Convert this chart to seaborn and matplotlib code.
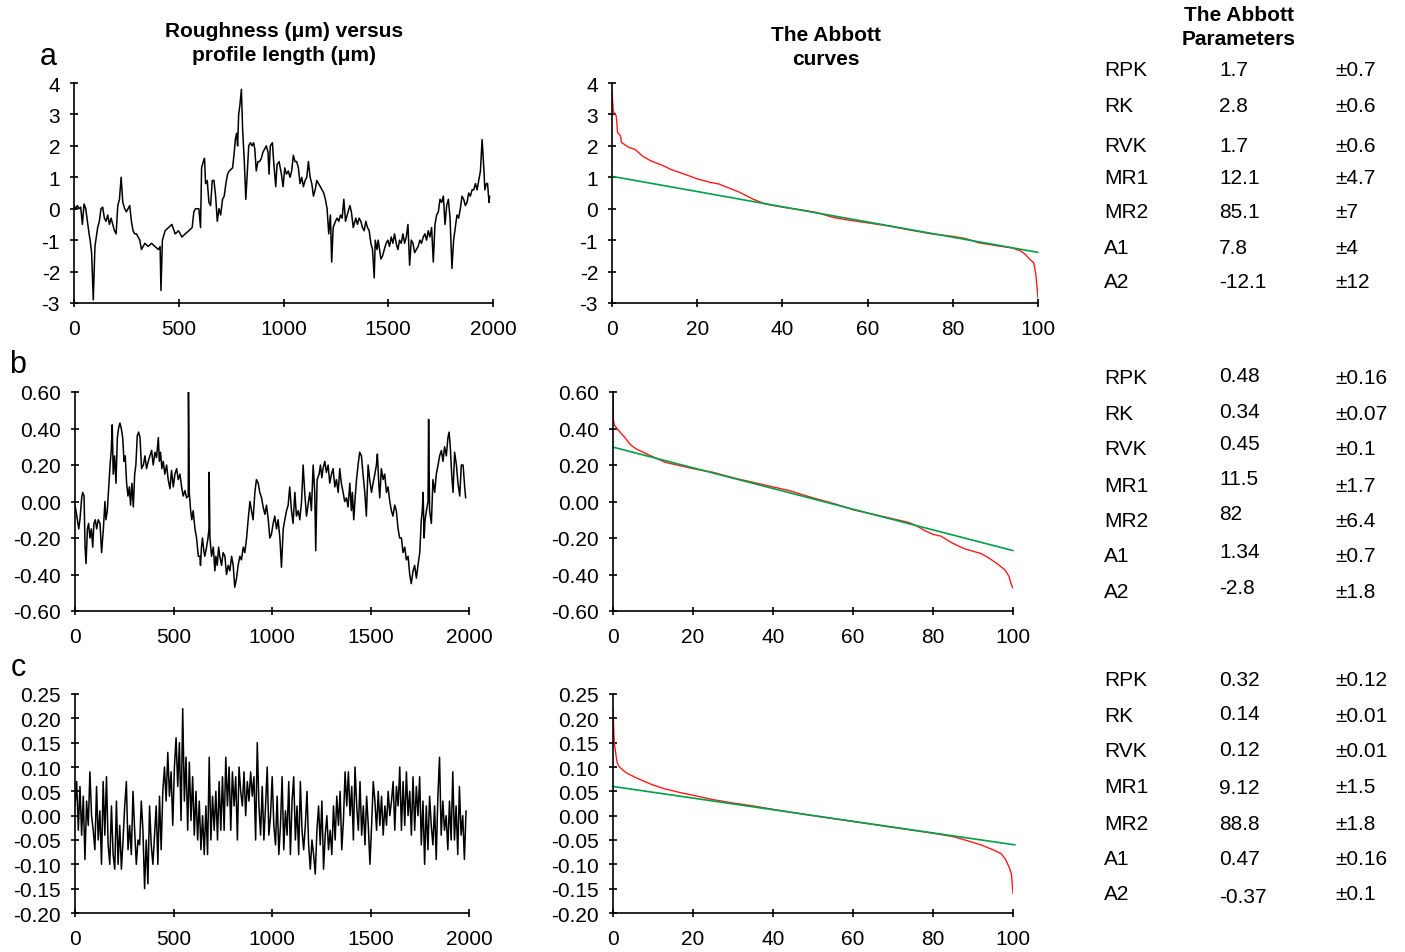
"""
Roughness profiles, Abbott curves and Abbott parameters for three surfaces (a, b, c)
"""
import numpy as np
import pandas as pd
import seaborn as sns
import matplotlib
matplotlib.use("Agg")
import matplotlib.pyplot as plt
from matplotlib.ticker import FormatStrFormatter

sns.set_style("ticks")
plt.rcParams['font.family'] = ['Liberation Sans', 'DejaVu Sans']
plt.rcParams['axes.unicode_minus'] = False
plt.rcParams['text.color'] = 'black'

# ---------------- data ----------------
# profile a : roughness (um) vs profile length (um)
profA_x = [0, 8, 16, 24, 32, 40, 48, 56, 64, 72, 77, 84, 92, 100, 113, 121, 129, 137, 145, 153,
           161, 169, 177, 185, 193, 201, 209, 217, 225, 233, 242, 250, 258, 266, 274, 282, 290, 298, 306, 314,
           322, 330, 338, 354, 370, 386, 403, 411, 415, 422, 435, 451, 467, 483, 499, 515, 531, 548, 564, 572,
           580, 596, 604, 609, 617, 623, 628, 636, 644, 652, 660, 668, 676, 684, 692, 700, 709, 717, 725, 733,
           741, 757, 765, 770, 776, 781, 786, 792, 799, 805, 813, 820, 826, 834, 842, 850, 857, 863, 870, 878,
           886, 894, 902, 910, 918, 926, 931, 937, 947, 953, 963, 969, 979, 990, 998, 1006, 1014, 1023, 1031, 1039,
           1047, 1055, 1063, 1071, 1079, 1087, 1095, 1103, 1111, 1119, 1127, 1135, 1143, 1151, 1159, 1167, 1176, 1184, 1192, 1200,
           1208, 1216, 1224, 1230, 1237, 1248, 1256, 1264, 1272, 1280, 1288, 1296, 1304, 1317, 1324, 1333, 1345, 1353, 1361, 1369,
           1377, 1385, 1393, 1401, 1409, 1417, 1425, 1433, 1438, 1446, 1452, 1465, 1473, 1481, 1490, 1498, 1506, 1514, 1522, 1530,
           1538, 1546, 1554, 1562, 1570, 1578, 1586, 1594, 1602, 1610, 1618, 1626, 1634, 1643, 1651, 1659, 1667, 1675, 1683, 1691,
           1699, 1707, 1715, 1723, 1731, 1739, 1747, 1755, 1763, 1771, 1779, 1787, 1795, 1804, 1812, 1820, 1828, 1836, 1844, 1852,
           1860, 1868, 1876, 1884, 1892, 1900, 1908, 1916, 1924, 1932, 1940, 1948, 1957, 1961, 1968, 1974, 1981, 1984]
profA_y = [0.1, 0.0, 0.1, 0.0, 0.05, -0.5, 0.15, 0.0, -0.4, -0.8, -1.0, -1.4, -2.9, -1.2, -0.6, -0.4, 0.0, 0.05, -0.3, -0.4,
           -0.2, -0.5, -0.3, -0.5, -0.7, -0.8, 0.1, 0.3, 1.0, 0.2, 0.0, -0.1, 0.0, 0.1, -0.4, -0.7, -0.8, -0.8, -0.9, -1.0,
           -1.3, -1.2, -1.1, -1.2, -1.1, -1.2, -1.3, -1.2, -2.6, -1.0, -0.7, -0.6, -0.5, -0.8, -0.7, -0.9, -0.8, -0.7, -0.6, -0.1,
           0.0, 0.0, -0.6, 1.3, 1.5, 1.6, 0.8, 0.9, 0.2, 0.1, 0.9, 0.9, 0.4, -0.4, 0.0, -0.2, 0.3, 0.4, 0.8, 1.1,
           1.2, 1.3, 1.8, 2.2, 2.4, 2.0, 3.0, 3.3, 3.8, 2.5, 1.5, 0.3, 1.0, 2.0, 2.1, 2.0, 2.1, 1.9, 1.2, 1.5,
           1.5, 1.6, 1.8, 1.9, 2.0, 1.8, 1.1, 2.0, 2.1, 1.5, 0.7, 1.4, 1.5, 1.1, 0.7, 1.3, 1.1, 1.2, 1.0, 1.2,
           1.7, 1.5, 1.5, 1.3, 0.8, 1.0, 0.7, 0.9, 1.0, 1.5, 1.0, 0.8, 0.4, 0.6, 0.9, 0.8, 0.7, 0.6, 0.5, 0.3,
           0.0, -0.8, -0.2, -1.7, -0.6, -0.4, -0.3, -0.4, -0.2, -0.3, 0.3, -0.4, -0.2, 0.1, -0.1, -0.6, -0.3, -0.5, -0.3, -0.4,
           -0.6, -0.7, -0.4, -0.6, -0.7, -1.1, -1.3, -2.2, -1.0, -1.3, -1.0, -1.6, -1.5, -1.3, -1.1, -1.0, -1.2, -0.9, -1.1, -0.8,
           -1.1, -1.3, -1.0, -1.1, -0.8, -1.1, -0.9, -0.5, -1.8, -1.0, -1.1, -1.4, -1.3, -1.2, -1.0, -1.1, -0.9, -0.8, -1.0, -0.7,
           -0.9, -0.6, -1.7, -0.5, -0.2, -0.1, 0.3, 0.2, 0.4, -0.5, 0.1, 0.3, -0.3, -1.9, -1.0, -0.6, -0.2, -0.3, 0.0, 0.4,
           0.3, 0.1, 0.2, 0.5, 0.4, 0.6, 0.6, 0.8, 0.6, 0.9, 1.2, 2.2, 1.2, 0.6, 0.8, 0.8, 0.2, 0.4]

# profile b
profB_x = [0, 5, 12, 19, 25, 34, 39, 46, 51, 56, 63, 69, 76, 83, 90, 96, 103, 110, 118, 127,
           135, 144, 152, 157, 164, 171, 178, 184, 189, 194, 201, 208, 215, 221, 228, 235, 242, 249, 255, 262,
           269, 276, 282, 289, 296, 303, 309, 316, 323, 330, 338, 347, 355, 363, 372, 380, 389, 397, 406, 414,
           423, 428, 434, 441, 448, 456, 465, 473, 482, 490, 499, 507, 516, 524, 533, 541, 549, 558, 566, 575,
           576, 580, 587, 593, 600, 609, 617, 626, 634, 637, 642, 647, 654, 659, 668, 675, 680, 681, 685, 693,
           702, 710, 715, 722, 729, 735, 744, 752, 761, 769, 778, 786, 795, 803, 811, 820, 828, 837, 845, 854,
           862, 871, 879, 888, 896, 904, 913, 921, 930, 938, 947, 955, 964, 972, 981, 989, 997, 1006, 1014, 1023,
           1031, 1040, 1048, 1057, 1065, 1074, 1082, 1090, 1099, 1107, 1116, 1124, 1133, 1141, 1150, 1158, 1166, 1175, 1183, 1192,
           1200, 1209, 1217, 1222, 1229, 1239, 1246, 1253, 1259, 1268, 1276, 1285, 1293, 1302, 1310, 1319, 1327, 1336, 1344, 1352,
           1361, 1369, 1378, 1386, 1395, 1403, 1408, 1415, 1422, 1429, 1437, 1445, 1454, 1462, 1471, 1479, 1488, 1496, 1505, 1513,
           1522, 1530, 1535, 1542, 1547, 1555, 1564, 1572, 1581, 1589, 1598, 1606, 1614, 1623, 1631, 1640, 1648, 1657, 1665, 1674,
           1682, 1691, 1699, 1707, 1716, 1724, 1733, 1741, 1750, 1758, 1763, 1767, 1772, 1777, 1784, 1792, 1795, 1800, 1809, 1817,
           1826, 1834, 1843, 1851, 1860, 1868, 1876, 1885, 1893, 1899, 1905, 1912, 1919, 1927, 1936, 1944, 1953, 1961, 1970, 1978,
           1983]
profB_y = [-0.02, -0.05, -0.1, -0.15, -0.1, 0.02, 0.05, 0.03, -0.25, -0.34, -0.15, -0.12, -0.2, -0.15, -0.25, -0.12, -0.1, -0.15, -0.1, -0.12,
           -0.28, -0.15, 0.0, -0.1, -0.05, 0.08, 0.2, 0.28, 0.42, 0.15, 0.25, 0.1, 0.35, 0.4, 0.43, 0.4, 0.35, 0.22, 0.25, 0.1,
           0.03, 0.08, -0.02, 0.1, -0.03, 0.15, 0.2, 0.36, 0.38, 0.35, 0.18, 0.2, 0.25, 0.18, 0.22, 0.25, 0.28, 0.2, 0.27, 0.24,
           0.35, 0.22, 0.27, 0.18, 0.22, 0.15, 0.2, 0.12, 0.07, 0.17, 0.08, 0.15, 0.18, 0.12, 0.15, 0.08, 0.03, 0.06, 0.02, 0.03,
           0.6, 0.05, -0.05, -0.1, -0.05, -0.15, -0.2, -0.3, -0.3, -0.35, -0.25, -0.2, -0.27, -0.3, -0.25, -0.2, -0.15, 0.16, -0.2, -0.3,
           -0.25, -0.38, -0.3, -0.35, -0.25, -0.3, -0.35, -0.28, -0.3, -0.4, -0.35, -0.38, -0.3, -0.35, -0.47, -0.42, -0.35, -0.3, -0.32, -0.25,
           -0.28, -0.2, -0.1, 0.0, -0.05, -0.1, 0.05, 0.12, 0.1, 0.05, 0.02, -0.03, -0.07, -0.02, -0.1, -0.2, -0.18, -0.12, -0.08, -0.15,
           -0.1, -0.2, -0.36, -0.15, -0.1, -0.05, -0.02, 0.08, -0.05, -0.12, 0.05, -0.08, -0.05, -0.1, 0.0, 0.2, 0.05, -0.08, -0.02, 0.05,
           -0.05, 0.2, 0.05, -0.27, 0.12, 0.15, 0.2, 0.13, 0.18, 0.22, 0.16, 0.2, 0.1, 0.15, 0.18, 0.08, 0.12, 0.05, 0.18, 0.1,
           0.05, 0.0, 0.02, -0.03, 0.1, -0.05, 0.05, -0.1, 0.02, 0.12, 0.2, 0.27, 0.25, 0.15, 0.05, -0.08, 0.2, 0.12, 0.05, 0.1,
           0.15, 0.2, 0.26, 0.1, 0.02, 0.18, 0.12, 0.15, 0.05, 0.08, 0.0, -0.05, -0.08, -0.02, -0.05, -0.15, -0.2, -0.2, -0.28, -0.25,
           -0.32, -0.3, -0.4, -0.45, -0.38, -0.35, -0.42, -0.35, -0.28, -0.1, -0.05, 0.05, -0.2, -0.1, -0.05, 0.0, 0.45, -0.05, -0.12, 0.12,
           0.05, 0.15, 0.2, 0.25, 0.28, 0.22, 0.3, 0.25, 0.35, 0.38, 0.3, 0.15, 0.05, 0.27, 0.2, 0.1, 0.03, 0.2, 0.2, 0.08,
           0.02]

# profile c (evenly sampled along 0..1985 um)
profC_y = [0.02, 0.07, -0.03, 0.06, -0.04, 0.04, -0.09, 0.03, -0.02, 0.09, 0.0, -0.03,
           -0.07, 0.06, -0.05, 0.01, -0.10, 0.07, -0.04, 0.08, -0.06, -0.10, 0.02, -0.08,
           -0.11, 0.03, -0.10, -0.02, -0.11, -0.05, 0.02, 0.07, -0.07, -0.02, -0.08, 0.05,
           -0.03, -0.10, -0.05, -0.06, 0.03, -0.03, -0.15, -0.05, -0.14, 0.02, -0.06, -0.10,
           -0.04, 0.02, -0.10, 0.04, -0.07, 0.05, 0.10, 0.03, 0.13, 0.04, 0.09, -0.02,
           0.10, 0.16, 0.06, 0.15, -0.01, 0.22, 0.03, 0.12, -0.03, 0.11, -0.01, 0.08,
           -0.04, 0.05, -0.05, 0.03, -0.07, 0.00, -0.08, 0.02, -0.08, 0.12, -0.05, 0.04,
           -0.03, 0.05, -0.05, 0.07, -0.03, 0.08, -0.03, 0.12, 0.02, 0.10, -0.03, 0.09,
           0.02, 0.08, -0.05, 0.10, 0.05, 0.02, 0.09, 0.00, 0.07, 0.03, 0.09, 0.04,
           0.08, -0.05, 0.15, 0.02, -0.04, 0.06, -0.05, 0.02, 0.10, -0.04, 0.00, 0.08,
           -0.02, -0.06, 0.04, -0.08, -0.02, 0.08, -0.07, 0.01, -0.04, 0.07, -0.08, 0.03,
           0.08, -0.05, 0.02, -0.08, 0.07, -0.03, -0.07, -0.02, 0.05, -0.06, -0.11, -0.05,
           -0.08, -0.12, -0.03, 0.02, -0.06, 0.03, -0.11, -0.04, 0.00, -0.07, -0.03, -0.08,
           0.02, -0.05, 0.04, -0.02, 0.05, -0.07, -0.01, 0.09, 0.02, 0.09, 0.00, 0.06,
           -0.05, 0.10, 0.02, -0.03, 0.07, -0.04, 0.02, -0.06, 0.04, -0.02, -0.10, -0.02,
           0.07, 0.03, -0.03, 0.05, -0.02, 0.04, -0.04, 0.02, -0.02, 0.05, 0.00, 0.03,
           0.07, -0.03, 0.06, 0.02, 0.10, -0.03, 0.07, -0.02, 0.09, 0.00, 0.05, -0.04,
           0.08, -0.03, 0.06, 0.00, 0.08, -0.06, 0.03, -0.10, 0.02, -0.07, 0.04, -0.02,
           -0.06, 0.02, -0.09, 0.04, 0.12, -0.04, 0.03, -0.03, 0.00, -0.07, 0.03, -0.05,
           0.09, -0.05, 0.02, -0.08, 0.06, -0.04, 0.00, -0.09, 0.01]
profC_len = 1985
profC_x = np.linspace(0, profC_len, len(profC_y))

# Abbott curves: bearing ratio (%) vs height, plus the fitted core line
abbA_pct = [0, 0.3, 1, 1.3, 2, 2.2, 4, 5.5, 7, 9, 12, 14, 17, 20, 23, 25, 28, 30, 33, 36,
            40, 45, 48, 52, 55, 60, 65, 70, 75, 80, 83, 86, 90, 94, 96, 97, 98, 99, 99.5, 100]
abbA_h = [3.75, 3.1, 2.95, 2.43, 2.32, 2.11, 1.95, 1.88, 1.69, 1.53, 1.37, 1.24, 1.1, 0.95, 0.84, 0.79, 0.63, 0.52, 0.31, 0.15,
          0.05, -0.05, -0.12, -0.28, -0.35, -0.45, -0.55, -0.68, -0.8, -0.88, -0.95, -1.08, -1.17, -1.25, -1.35, -1.45, -1.6, -1.72, -2.1, -2.85]
lineA_pct = [0, 100]
lineA_h = [1.03, -1.39]

abbB_pct = [0, 0.1, 0.3, 1, 2, 3, 4, 5, 6, 8, 10, 13, 17, 20, 25, 30, 35, 40, 44, 50,
            55, 60, 65, 70, 74, 76, 78, 80, 82, 85, 88, 92, 94, 96, 98, 99, 99.5, 100]
abbB_h = [0.6, 0.45, 0.42, 0.4, 0.374, 0.35, 0.32, 0.3, 0.286, 0.265, 0.245, 0.215, 0.195, 0.18, 0.16, 0.13, 0.105, 0.08, 0.06, 0.02,
          -0.01, -0.045, -0.07, -0.095, -0.115, -0.135, -0.16, -0.18, -0.19, -0.23, -0.26, -0.285, -0.31, -0.34, -0.375, -0.41, -0.45, -0.475]
lineB_pct = [0, 100]
lineB_h = [0.298, -0.269]

abbC_pct = [0, 0.3, 0.6, 1, 1.5, 3, 4, 6, 8, 10, 13, 17, 20, 25, 30, 35, 40, 50, 60, 70,
            80, 85, 88, 92, 95, 97, 98, 99, 99.6, 100]
abbC_h = [0.219, 0.15, 0.133, 0.11, 0.101, 0.09, 0.085, 0.077, 0.07, 0.063, 0.055, 0.047, 0.042, 0.033, 0.026, 0.02, 0.013, 0.0, -0.012, -0.024,
          -0.036, -0.043, -0.05, -0.06, -0.07, -0.078, -0.088, -0.105, -0.12, -0.16]
lineC_pct = [0, 100.5]
lineC_h = [0.06, -0.06]

# Abbott parameters table
paramNames = ['RPK', 'RK', 'RVK', 'MR1', 'MR2', 'A1', 'A2']
paramA = ['1.7', '2.8', '1.7', '12.1', '85.1', '7.8', '-12.1']
errA = ['±0.7', '±0.6', '±0.6', '±4.7', '±7', '±4', '±12']
paramB = ['0.48', '0.34', '0.45', '11.5', '82', '1.34', '-2.8']
errB = ['±0.16', '±0.07', '±0.1', '±1.7', '±6.4', '±0.7', '±1.8']
paramC = ['0.32', '0.14', '0.12', '9.12', '88.8', '0.47', '-0.37']
errC = ['±0.12', '±0.01', '±0.01', '±1.5', '±1.8', '±0.16', '±0.1']

# ---------------- layout (pixels) ----------------
W, H = 1405, 953
fig = plt.figure(figsize=(W / 100, H / 100), dpi=100)


def addAxes(left, right, top, bottom):
    return fig.add_axes([left / W, 1 - bottom / H, (right - left) / W, (bottom - top) / H])


def styleAxis(ax, xlim, xticks, ylim, yticks, fmt):
    ax.set_xlim(xlim)
    ax.set_ylim(ylim)
    ax.set_xticks(xticks)
    ax.set_yticks(yticks)
    ax.yaxis.set_major_formatter(FormatStrFormatter(fmt))
    sns.despine(ax=ax)
    for s in ['left', 'bottom']:
        ax.spines[s].set_linewidth(1.2)
        ax.spines[s].set_color('black')
    ax.tick_params(direction='inout', length=6, width=1.2, labelsize=15, colors='black', pad=7)
    ax.tick_params(axis='x', pad=8.5)
    ax.set_xlabel('')
    ax.set_ylabel('')
    ax.set_facecolor('white')


def drawProfile(ax, x, y):
    df = pd.DataFrame({'x': x, 'y': y})
    sns.lineplot(data=df, x='x', y='y', ax=ax, color='black', linewidth=1.1, estimator=None, sort=False)


def drawAbbott(ax, pct, h, lpct, lh):
    curve = pd.DataFrame({'pct': pct, 'h': h})
    core = pd.DataFrame({'pct': lpct, 'h': lh})
    sns.lineplot(data=curve, x='pct', y='h', ax=ax, color='#ff1a1a', linewidth=1.0, estimator=None, sort=False)
    sns.lineplot(data=core, x='pct', y='h', ax=ax, color='#00a04a', linewidth=1.2, estimator=None, sort=False, clip_on=False)


profTicks = [0, 500, 1000, 1500, 2000]
abbTicks = [0, 20, 40, 60, 80, 100]

# row a
ax = addAxes(74, 493, 84, 304)
drawProfile(ax, profA_x, profA_y)
styleAxis(ax, (0, 2000), profTicks, (-3, 4), range(-3, 5), '%d')
ax = addAxes(612, 1038, 84, 304)
drawAbbott(ax, abbA_pct, abbA_h, lineA_pct, lineA_h)
styleAxis(ax, (0, 100), abbTicks, (-3, 4), range(-3, 5), '%d')

# row b
bTicks = [-0.6, -0.4, -0.2, 0.0, 0.2, 0.4, 0.6]
ax = addAxes(75, 469, 393, 612)
drawProfile(ax, profB_x, profB_y)
styleAxis(ax, (0, 2000), profTicks, (-0.6, 0.6), bTicks, '%.2f')
ax = addAxes(613, 1013, 393, 612)
drawAbbott(ax, abbB_pct, abbB_h, lineB_pct, lineB_h)
styleAxis(ax, (0, 100), abbTicks, (-0.6, 0.6), bTicks, '%.2f')

# row c
cTicks = [-0.2, -0.15, -0.1, -0.05, 0.0, 0.05, 0.1, 0.15, 0.2, 0.25]
ax = addAxes(75, 469, 695, 914)
drawProfile(ax, profC_x, profC_y)
styleAxis(ax, (0, 2000), profTicks, (-0.2, 0.25), cTicks, '%.2f')
ax = addAxes(613, 1013, 695, 914)
drawAbbott(ax, abbC_pct, abbC_h, lineC_pct, lineC_h)
styleAxis(ax, (0, 100), abbTicks, (-0.2, 0.25), cTicks, '%.2f')


def figText(x, y, s, **kw):
    fig.text(x / W, 1 - y / H, s, color='black', **kw)


# headers and panel letters
figText(284, 43.5, 'Roughness (μm) versus\nprofile length (μm)', ha='center', va='center',
        fontsize=15, fontweight='bold', linespacing=1.35)
figText(826, 47.5, 'The Abbott\ncurves', ha='center', va='center', fontsize=15, fontweight='bold', linespacing=1.35)
figText(1239, 27.5, 'The Abbott\nParameters', ha='center', va='center', fontsize=15, fontweight='bold', linespacing=1.35)
figText(48, 57, 'a', ha='center', va='center', fontsize=22)
figText(18, 365, 'b', ha='center', va='center', fontsize=22)
figText(18, 668, 'c', ha='center', va='center', fontsize=22)

# parameter tables
tables = [
    (paramA, errA, [71, 107, 146, 178, 213, 248, 282], [71, 107, 146, 178, 213, 248, 282]),
    (paramB, errB, [379, 414, 450, 486, 522, 557, 593], [376, 413, 445, 480, 515, 552, 589]),
    (paramC, errC, [681, 717, 752, 788, 824, 860, 895], [680, 714, 751, 789, 824, 860, 898]),
]
for vals, errs, rowY, valY in tables:
    for i, name in enumerate(paramNames):
        figText(1104, rowY[i], name, ha='left', va='center', fontsize=15)
        figText(1219, valY[i], vals[i], ha='left', va='center', fontsize=15)
        figText(1335, rowY[i], errs[i], ha='left', va='center', fontsize=15)

fig.savefig('out.png', dpi=100, facecolor='white')
